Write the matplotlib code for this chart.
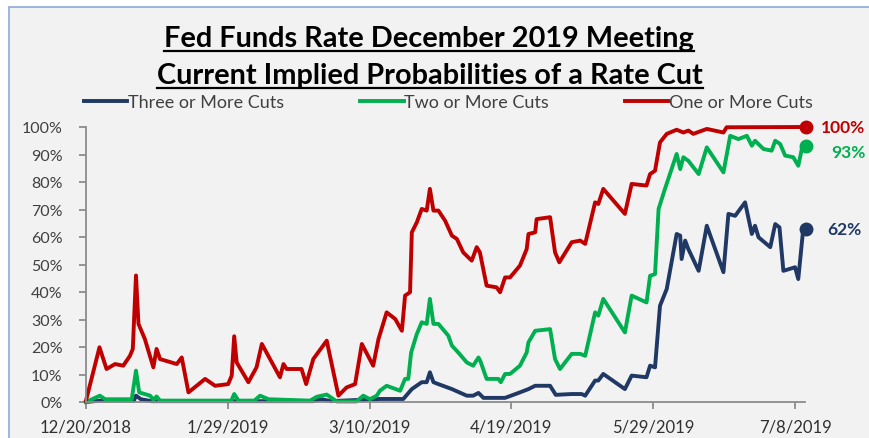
import matplotlib
matplotlib.use('Agg')
import matplotlib.pyplot as plt
from matplotlib.lines import Line2D
from matplotlib.patches import Rectangle

plt.rcParams['font.family'] = ['Lato', 'DejaVu Sans']

# days counted from 12/20/2018
tick_days = [0, 40, 80, 120, 160, 200]
tick_labels = ['12/20/2018', '1/29/2019', '3/10/2019', '4/19/2019', '5/29/2019', '7/8/2019']

red_days = [0, 3.8, 5.8, 8.2, 10.5, 12.4, 13.2, 14.1, 14.8, 16.6, 19.0, 19.9, 20.9, 25.6, 27.0,
            28.9, 33.6, 36.4, 40.1, 41.1, 41.8, 42.5, 45.8, 48.1, 49.6, 54.7, 55.7, 56.6, 60.8,
            62.1, 64.1, 67.9, 71.2, 73.5, 75.9, 77.8, 81.0, 82.5, 84.8, 87.2, 89.1, 90.0, 91.4,
            91.9, 93.3, 94.7, 96.1, 97.0, 98.0, 99.4, 101.3, 103.2, 104.6, 106.4, 108.8, 110.2,
            111.1, 113.0, 115.8, 116.8, 118.2, 119.6, 122.4, 124.3, 124.8, 126.7, 127.1, 130.9,
            132.3, 133.5, 137.0, 139.4, 140.8, 143.6, 144.5, 145.9, 152.0, 153.9, 158.1, 159.1,
            160.5, 161.9, 163.8, 166.6, 168.5, 169.9, 171.3, 175.1, 179.8, 180.7, 203.1]
red_vals = [0.5, 19.9, 12.0, 13.8, 13.2, 16.8, 19.3, 46.0, 28.4, 22.9, 12.6, 19.3, 15.6, 13.8, 16.2,
            3.5, 8.4, 5.9, 6.5, 9.6, 23.9, 14.4, 7.2, 12.6, 21.1, 9.0, 13.8, 12.0, 12.0,
            6.5, 15.6, 22.3, 2.3, 5.3, 6.5, 21.1, 13.2, 22.9, 32.6, 30.2, 25.9, 38.7, 39.9,
            61.7, 65.3, 70.2, 69.6, 77.5, 69.6, 69.6, 65.9, 60.5, 59.3, 54.4, 51.4, 56.3,
            54.4, 42.3, 41.7, 39.9, 45.3, 45.3, 49.6, 55.6, 61.1, 61.7, 66.5, 67.2,
            54.4, 50.8, 58.1, 58.7, 57.5, 72.6, 72.0, 77.5, 68.4, 79.3, 78.7, 82.9,
            84.1, 94.4, 97.5, 99.0, 98.0, 98.7, 97.5, 99.3, 98.0, 99.9, 100.0]

green_days = [0, 3.9, 5.4, 12.9, 14.1, 15.0, 18.1, 19.0, 19.9, 20.9, 41.0, 41.8, 43.0, 47.5, 49.1,
              51.5, 63.2, 65.1, 67.9, 70.7, 76.3, 78.2, 80.1, 82.0, 82.9, 84.8, 88.6, 90.0, 90.9,
              91.7, 93.3, 94.7, 96.1, 97.0, 98.0, 99.4, 102.2, 103.2, 105.0, 107.4, 109.2, 110.7,
              111.2, 113.0, 116.3, 117.0, 118.2, 119.6, 122.4, 124.3, 124.8, 126.7, 130.9, 132.3,
              133.7, 137.0, 139.4, 140.8, 143.6, 144.5, 145.9, 152.0, 153.9, 158.1, 159.1, 160.5,
              161.5, 163.3, 166.6, 167.6, 168.5, 169.9, 172.8, 175.1, 179.8, 181.7, 184.0, 186.4,
              187.8, 188.7, 191.1, 193.4, 194.4, 195.8, 197.2, 199.5, 200.9, 201.9, 203.1]
green_vals = [0, 2.3, 1.0, 1.0, 11.4, 3.5, 2.3, 0.8, 2.0, 0.5, 0.5, 2.9, 0.5, 0.5, 2.3,
              1.0, 0.5, 1.9, 2.7, 0.2, 0.2, 2.3, 1.0, 2.3, 4.1, 5.9, 4.1, 8.4, 8.4,
              18.0, 24.7, 29.0, 28.4, 37.5, 28.4, 28.4, 24.1, 20.5, 18.0, 14.4, 13.2, 16.2,
              15.0, 8.4, 8.4, 7.2, 10.2, 10.2, 13.2, 18.0, 21.7, 25.9, 26.5, 15.6,
              12.0, 17.5, 17.5, 16.8, 32.6, 31.4, 37.5, 25.3, 38.7, 36.2, 45.9, 46.5,
              70.2, 77.5, 90.2, 84.7, 89.0, 87.7, 82.9, 92.6, 83.5, 96.8, 95.6, 96.8,
              93.2, 95.0, 92.0, 91.4, 95.0, 93.8, 89.6, 89.0, 85.9, 92.0, 93.0]

navy_days = [0, 3.9, 13.5, 14.1, 15.5, 18.5, 64.0, 66.5, 69.0, 82.9, 89.5, 91.9, 94.7, 96.1, 97.0,
             98.0, 99.4, 103.2, 107.4, 109.2, 110.7, 112.1, 118.2, 122.4, 124.8, 126.7, 130.9,
             132.5, 137.0, 139.8, 140.8, 143.6, 144.5, 145.9, 152.0, 153.9, 158.1, 159.1, 160.5,
             161.9, 163.8, 166.6, 167.6, 168.0, 169.0, 169.9, 172.8, 175.1, 179.8, 181.2, 183.1,
             185.9, 187.8, 188.7, 189.7, 193.0, 194.4, 195.6, 196.7, 200.0, 200.9, 202.3, 203.1]
navy_vals = [0, 0.5, 0.5, 2.3, 1.0, 0.3, 0.3, 1.0, 0.3, 1.1, 1.1, 4.7, 7.2, 7.2, 10.8,
             7.2, 6.5, 4.7, 2.3, 2.3, 3.3, 1.5, 1.5, 3.5, 4.7, 5.9, 5.9,
             2.6, 2.9, 2.9, 2.3, 7.8, 7.8, 10.2, 4.7, 9.6, 9.0, 13.2, 12.6,
             35.0, 41.1, 61.1, 60.5, 52.0, 58.7, 55.6, 47.7, 64.1, 47.2, 68.4, 67.7,
             72.6, 61.1, 64.1, 59.9, 56.3, 64.7, 63.5, 47.7, 49.0, 44.7, 62.9, 63.0]

end_labels = ['62%', '93%', '100%']
names = ['Three or More Cuts', 'Two or More Cuts', 'One or More Cuts']
colors = ['#1f3864', '#00b050', '#c00000']
label_offsets = [(15, 0), (18, -4), (11, 0)]

fig = plt.figure(figsize=(8.7, 4.39), dpi=100, facecolor='white')
fig.add_artist(Rectangle((9 / 870, -0.05), 1.1, 0.982 + 0.05, transform=fig.transFigure,
                         facecolor='#f2f2f2', edgecolor='#8eaadb', lw=1.2, zorder=-10))

ax = fig.add_axes([86 / 870, 1 - 403 / 439, 719 / 870, 275 / 439])
ax.patch.set_alpha(0)

series = [(navy_days, navy_vals), (green_days, green_vals), (red_days, red_vals)]
handles = []
for (d, v), c, n, lab, off in zip(series, colors, names, end_labels, label_offsets):
    ln, = ax.plot(d, v, color=c, lw=2.8, label=n, clip_on=False, solid_joinstyle='round')
    handles.append(ln)
    ax.plot(d[-1], v[-1], 'o', color=c, ms=9, clip_on=False)
    ax.annotate(lab, (d[-1], v[-1]), xytext=off, textcoords='offset points',
                ha='left', va='center', color=c, fontsize=12.5, fontweight='bold',
                annotation_clip=False)

ax.set_xlim(0, 202.8)
ax.set_ylim(0, 100)
ax.set_xticks(tick_days)
ax.set_xticklabels(tick_labels)
ax.set_yticks(range(0, 101, 10))
ax.set_yticklabels([f'{v}%' for v in range(0, 101, 10)])
for s in ['top', 'right']:
    ax.spines[s].set_visible(False)
for s in ['left', 'bottom']:
    ax.spines[s].set_color('#8c8c8c')
    ax.spines[s].set_linewidth(1.3)
ax.tick_params(axis='y', length=5, width=1.3, color='#8c8c8c', pad=12, labelsize=11.5,
               labelcolor='#404040')
ax.tick_params(axis='x', length=5, width=1.3, color='#8c8c8c', pad=7, labelsize=12,
               labelcolor='#303030')

ax.legend(handles=handles, loc='center left', bbox_to_anchor=(84 / 870, 1 - 103 / 439),
          bbox_transform=fig.transFigure, ncol=3, frameon=False, fontsize=13,
          handlelength=2.4, handletextpad=0.05, columnspacing=4.2, borderpad=0,
          borderaxespad=0, labelcolor='#404040')

t1 = fig.text(429 / 870, 1 - 47 / 439, 'Fed Funds Rate December 2019 Meeting',
              ha='center', va='baseline', fontsize=20.8, fontweight='bold', color='black')
t2 = fig.text(430 / 870, 1 - 84 / 439, 'Current Implied Probabilities of a Rate Cut',
              ha='center', va='baseline', fontsize=20.8, fontweight='bold', color='black')

# underline the two title lines
fig.canvas.draw()
r = fig.canvas.get_renderer()
for t, yb in [(t1, 47), (t2, 84)]:
    bb = t.get_window_extent(r)
    y = 1 - (yb + 5) / 439
    fig.add_artist(Line2D([bb.x0 / 870, bb.x1 / 870], [y, y], transform=fig.transFigure,
                          color='black', lw=1.6))

fig.savefig('out.png', dpi=100)
